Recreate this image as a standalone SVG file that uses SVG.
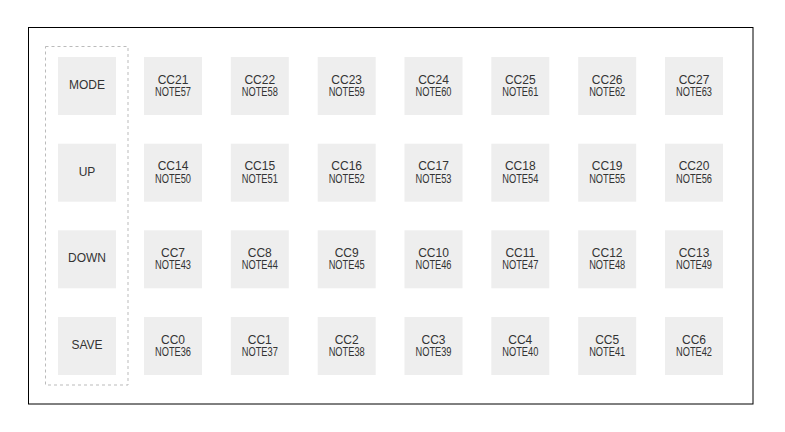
<svg xmlns="http://www.w3.org/2000/svg" width="785" height="432" viewBox="0 0 785 432">
<style>
.k{fill:#eeeeee}
text{font-family:"Liberation Sans",Arial,sans-serif;font-size:12px;fill:#333333;text-anchor:middle}
</style>
<rect x="0" y="0" width="785" height="432" fill="#ffffff"/>
<rect id="frame" x="28.5" y="27.5" width="724.5" height="376.5" fill="none" stroke="#000000" stroke-width="1"/>
<rect id="controls" x="45.5" y="46.5" width="82.5" height="338.5" fill="none" stroke="#bbbbbb" stroke-width="1" stroke-dasharray="3,3"/>
<g id="connectors"></g>
<g id="btn-mode"><rect class="k" x="58" y="57" width="58" height="58"/><text x="87" y="89">MODE</text></g>
<g id="btn-up"><rect class="k" x="58" y="143.7" width="58" height="58"/><text x="87" y="175.7">UP</text></g>
<g id="btn-down"><rect class="k" x="58" y="230.3" width="58" height="58"/><text x="87" y="262.3">DOWN</text></g>
<g id="btn-save"><rect class="k" x="58" y="317" width="58" height="58"/><text x="87" y="349">SAVE</text></g>

<g id="cc21"><rect class="k" x="144" y="57" width="58" height="58"/><text x="173" y="83.5">CC21</text><text x="173" y="96" textLength="36" lengthAdjust="spacingAndGlyphs">NOTE57</text></g>
<g id="cc22"><rect class="k" x="230.8" y="57" width="58" height="58"/><text x="259.8" y="83.5">CC22</text><text x="259.8" y="96" textLength="36" lengthAdjust="spacingAndGlyphs">NOTE58</text></g>
<g id="cc23"><rect class="k" x="317.7" y="57" width="58" height="58"/><text x="346.7" y="83.5">CC23</text><text x="346.7" y="96" textLength="36" lengthAdjust="spacingAndGlyphs">NOTE59</text></g>
<g id="cc24"><rect class="k" x="404.5" y="57" width="58" height="58"/><text x="433.5" y="83.5">CC24</text><text x="433.5" y="96" textLength="36" lengthAdjust="spacingAndGlyphs">NOTE60</text></g>
<g id="cc25"><rect class="k" x="491.3" y="57" width="58" height="58"/><text x="520.3" y="83.5">CC25</text><text x="520.3" y="96" textLength="36" lengthAdjust="spacingAndGlyphs">NOTE61</text></g>
<g id="cc26"><rect class="k" x="578.2" y="57" width="58" height="58"/><text x="607.2" y="83.5">CC26</text><text x="607.2" y="96" textLength="36" lengthAdjust="spacingAndGlyphs">NOTE62</text></g>
<g id="cc27"><rect class="k" x="665" y="57" width="58" height="58"/><text x="694" y="83.5">CC27</text><text x="694" y="96" textLength="36" lengthAdjust="spacingAndGlyphs">NOTE63</text></g>

<g id="cc14"><rect class="k" x="144" y="143.7" width="58" height="58"/><text x="173" y="170.2">CC14</text><text x="173" y="182.7" textLength="36" lengthAdjust="spacingAndGlyphs">NOTE50</text></g>
<g id="cc15"><rect class="k" x="230.8" y="143.7" width="58" height="58"/><text x="259.8" y="170.2">CC15</text><text x="259.8" y="182.7" textLength="36" lengthAdjust="spacingAndGlyphs">NOTE51</text></g>
<g id="cc16"><rect class="k" x="317.7" y="143.7" width="58" height="58"/><text x="346.7" y="170.2">CC16</text><text x="346.7" y="182.7" textLength="36" lengthAdjust="spacingAndGlyphs">NOTE52</text></g>
<g id="cc17"><rect class="k" x="404.5" y="143.7" width="58" height="58"/><text x="433.5" y="170.2">CC17</text><text x="433.5" y="182.7" textLength="36" lengthAdjust="spacingAndGlyphs">NOTE53</text></g>
<g id="cc18"><rect class="k" x="491.3" y="143.7" width="58" height="58"/><text x="520.3" y="170.2">CC18</text><text x="520.3" y="182.7" textLength="36" lengthAdjust="spacingAndGlyphs">NOTE54</text></g>
<g id="cc19"><rect class="k" x="578.2" y="143.7" width="58" height="58"/><text x="607.2" y="170.2">CC19</text><text x="607.2" y="182.7" textLength="36" lengthAdjust="spacingAndGlyphs">NOTE55</text></g>
<g id="cc20"><rect class="k" x="665" y="143.7" width="58" height="58"/><text x="694" y="170.2">CC20</text><text x="694" y="182.7" textLength="36" lengthAdjust="spacingAndGlyphs">NOTE56</text></g>

<g id="cc7"><rect class="k" x="144" y="230.3" width="58" height="58"/><text x="173" y="256.8">CC7</text><text x="173" y="269.3" textLength="36" lengthAdjust="spacingAndGlyphs">NOTE43</text></g>
<g id="cc8"><rect class="k" x="230.8" y="230.3" width="58" height="58"/><text x="259.8" y="256.8">CC8</text><text x="259.8" y="269.3" textLength="36" lengthAdjust="spacingAndGlyphs">NOTE44</text></g>
<g id="cc9"><rect class="k" x="317.7" y="230.3" width="58" height="58"/><text x="346.7" y="256.8">CC9</text><text x="346.7" y="269.3" textLength="36" lengthAdjust="spacingAndGlyphs">NOTE45</text></g>
<g id="cc10"><rect class="k" x="404.5" y="230.3" width="58" height="58"/><text x="433.5" y="256.8">CC10</text><text x="433.5" y="269.3" textLength="36" lengthAdjust="spacingAndGlyphs">NOTE46</text></g>
<g id="cc11"><rect class="k" x="491.3" y="230.3" width="58" height="58"/><text x="520.3" y="256.8">CC11</text><text x="520.3" y="269.3" textLength="36" lengthAdjust="spacingAndGlyphs">NOTE47</text></g>
<g id="cc12"><rect class="k" x="578.2" y="230.3" width="58" height="58"/><text x="607.2" y="256.8">CC12</text><text x="607.2" y="269.3" textLength="36" lengthAdjust="spacingAndGlyphs">NOTE48</text></g>
<g id="cc13"><rect class="k" x="665" y="230.3" width="58" height="58"/><text x="694" y="256.8">CC13</text><text x="694" y="269.3" textLength="36" lengthAdjust="spacingAndGlyphs">NOTE49</text></g>

<g id="cc0"><rect class="k" x="144" y="317" width="58" height="58"/><text x="173" y="343.5">CC0</text><text x="173" y="356" textLength="36" lengthAdjust="spacingAndGlyphs">NOTE36</text></g>
<g id="cc1"><rect class="k" x="230.8" y="317" width="58" height="58"/><text x="259.8" y="343.5">CC1</text><text x="259.8" y="356" textLength="36" lengthAdjust="spacingAndGlyphs">NOTE37</text></g>
<g id="cc2"><rect class="k" x="317.7" y="317" width="58" height="58"/><text x="346.7" y="343.5">CC2</text><text x="346.7" y="356" textLength="36" lengthAdjust="spacingAndGlyphs">NOTE38</text></g>
<g id="cc3"><rect class="k" x="404.5" y="317" width="58" height="58"/><text x="433.5" y="343.5">CC3</text><text x="433.5" y="356" textLength="36" lengthAdjust="spacingAndGlyphs">NOTE39</text></g>
<g id="cc4"><rect class="k" x="491.3" y="317" width="58" height="58"/><text x="520.3" y="343.5">CC4</text><text x="520.3" y="356" textLength="36" lengthAdjust="spacingAndGlyphs">NOTE40</text></g>
<g id="cc5"><rect class="k" x="578.2" y="317" width="58" height="58"/><text x="607.2" y="343.5">CC5</text><text x="607.2" y="356" textLength="36" lengthAdjust="spacingAndGlyphs">NOTE41</text></g>
<g id="cc6"><rect class="k" x="665" y="317" width="58" height="58"/><text x="694" y="343.5">CC6</text><text x="694" y="356" textLength="36" lengthAdjust="spacingAndGlyphs">NOTE42</text></g>
</svg>
